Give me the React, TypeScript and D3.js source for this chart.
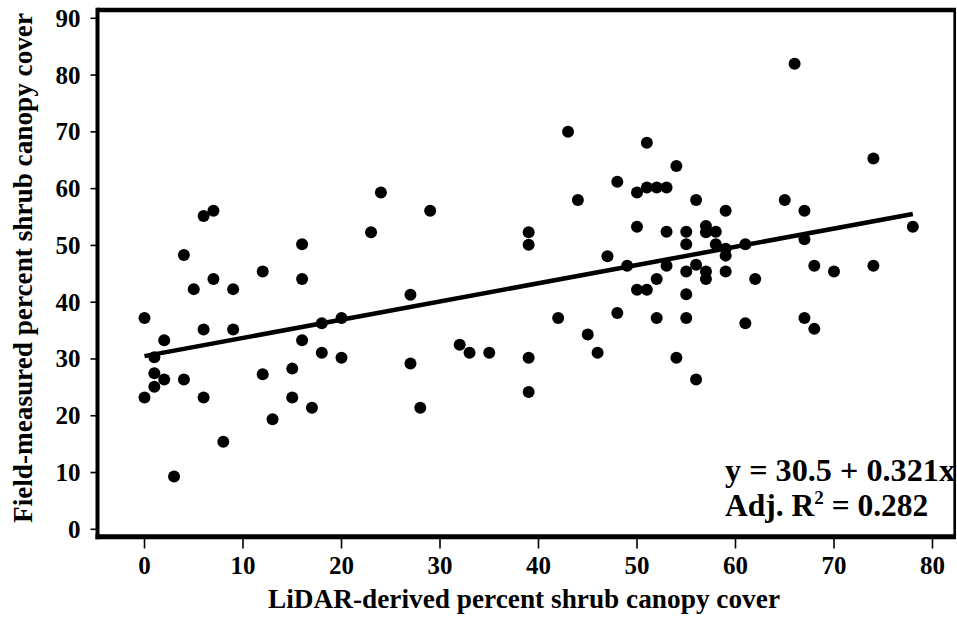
import React from "react";
import * as d3 from "d3";

const lidarCover = [
  0, 0, 1, 1, 1, 2, 2, 3, 4, 4,
  5, 6, 6, 6, 7, 7, 8, 9, 9, 12,
  12, 13, 15, 15, 16, 16, 16, 17, 18, 18,
  20, 20, 23, 24, 27, 27, 28, 29, 32, 33,
  35, 39, 39, 39, 39, 42, 43, 44, 45, 46,
  47, 48, 48, 49, 50, 50, 50, 51, 51, 51,
  52, 52, 52, 53, 53, 53, 54, 54, 55, 55,
  55, 55, 55, 56, 56, 56, 57, 57, 57, 57,
  58, 58, 59, 59, 59, 59, 61, 61, 62, 65,
  66, 67, 67, 67, 68, 68, 70, 74, 74, 78,
];
const fieldCover = [
  37.2, 23.2, 30.3, 27.5, 25.1, 33.3, 26.4, 9.3, 48.3, 26.4,
  42.3, 55.2, 35.2, 23.2, 56.1, 44.1, 15.4, 42.3, 35.2, 45.4,
  27.3, 19.4, 28.3, 23.2, 50.2, 44.1, 33.3, 21.4, 36.3, 31.1,
  37.2, 30.2, 52.3, 59.3, 41.3, 29.2, 21.4, 56.1, 32.5, 31.1,
  31.1, 52.3, 50.1, 30.2, 24.2, 37.2, 70.0, 58.0, 34.3, 31.1,
  48.1, 61.2, 38.1, 46.4, 59.3, 53.3, 42.2, 68.1, 60.2, 42.2,
  60.2, 44.1, 37.2, 60.2, 52.4, 46.4, 64.0, 30.2, 52.4, 50.2,
  45.4, 41.4, 37.2, 58.0, 46.6, 26.4, 53.4, 52.3, 45.4, 44.1,
  52.4, 50.2, 56.1, 49.4, 48.2, 45.4, 50.2, 36.3, 44.1, 58.0,
  82.0, 56.1, 51.1, 37.2, 46.4, 35.3, 45.4, 65.3, 46.4, 53.3,
];

const xTicks = [0, 10, 20, 30, 40, 50, 60, 70, 80];
const yTicks = [0, 10, 20, 30, 40, 50, 60, 70, 80, 90];

const regIntercept = 30.5;
const regSlope = 0.321;
const regXRange = [0, 78];

const xTitle = "LiDAR-derived percent shrub canopy cover";
const yTitle = "Field-measured percent shrub canopy cover";
const eqLine1 = "y = 30.5 + 0.321x";
const eqLine2a = "Adj. R";
const eqLine2sup = "2";
const eqLine2b = " = 0.282";

const W = 957;
const H = 618;
const frame = { left: 97.5, right: 954.7, top: 10, bottom: 536.7 };
const FONT = "'Liberation Serif', 'Times New Roman', Times, serif";

export default function App() {
  const x = d3.scaleLinear().domain([0, 80]).range([144.5, 932.5]);
  const y = d3.scaleLinear().domain([0, 90]).range([529.3, 18.3]);

  const points = lidarCover.map((v, i) => ({ x: v, y: fieldCover[i] }));
  const line = d3
    .line<number>()
    .x((d) => x(d))
    .y((d) => y(regIntercept + regSlope * d));

  return (
    <svg
      width={W}
      height={H}
      style={{ position: "absolute", left: 0, top: 0, background: "#fff" }}
      fontFamily={FONT}
      fontWeight="bold"
    >
      <rect x={0} y={0} width={W} height={H} fill="#fff" />
      {/* frame */}
      <line x1={frame.left} x2={frame.right + 1.3} y1={frame.top} y2={frame.top} stroke="#000" strokeWidth={4.5} />
      <line x1={frame.right} x2={frame.right} y1={frame.top} y2={frame.bottom} stroke="#000" strokeWidth={2.7} />

      {/* x ticks */}
      {xTicks.map((t) => (
        <g key={"xt" + t}>
          <line x1={x(t)} x2={x(t)} y1={frame.bottom} y2={548.5} stroke="#000" strokeWidth={1.6} />
          <text x={x(t)} y={573.5} textAnchor="middle" fontSize={25}>
            {t}
          </text>
        </g>
      ))}
      {/* y ticks */}
      {yTicks.map((t) => (
        <g key={"yt" + t}>
          <line x1={90.5} x2={frame.left} y1={y(t)} y2={y(t)} stroke="#000" strokeWidth={1.6} />
          <text x={80.5} y={y(t) + 8.5} textAnchor="end" fontSize={25}>
            {t}
          </text>
        </g>
      ))}

      {/* axes */}
      <line x1={frame.left} x2={frame.left} y1={frame.top - 2.2} y2={frame.bottom + 2.5} stroke="#000" strokeWidth={4} />
      <line x1={frame.left - 2} x2={frame.right + 1.3} y1={frame.bottom} y2={frame.bottom} stroke="#000" strokeWidth={5} />

      {/* regression line */}
      <path d={line(regXRange) || ""} stroke="#000" strokeWidth={4.5} fill="none" />

      {/* points */}
      {points.map((p, i) => (
        <circle key={i} cx={x(p.x)} cy={y(p.y)} r={6} fill="#000" />
      ))}

      {/* equation */}
      <text x={725} y={481} fontSize={31.5} textLength={230} lengthAdjust="spacingAndGlyphs">
        {eqLine1}
      </text>
      <text x={725} y={516} fontSize={31.5}>
        {eqLine2a}
        <tspan fontSize={19} dy={-12}>
          {eqLine2sup}
        </tspan>
        <tspan dy={12}>{eqLine2b}</tspan>
      </text>

      {/* titles */}
      <text x={524} y={608} textAnchor="middle" fontSize={27} textLength={512} lengthAdjust="spacingAndGlyphs">
        {xTitle}
      </text>
      <text
        transform={`translate(32,268) rotate(-90)`}
        textAnchor="middle"
        fontSize={27}
        textLength={510}
        lengthAdjust="spacingAndGlyphs"
      >
        {yTitle}
      </text>
    </svg>
  );
}
